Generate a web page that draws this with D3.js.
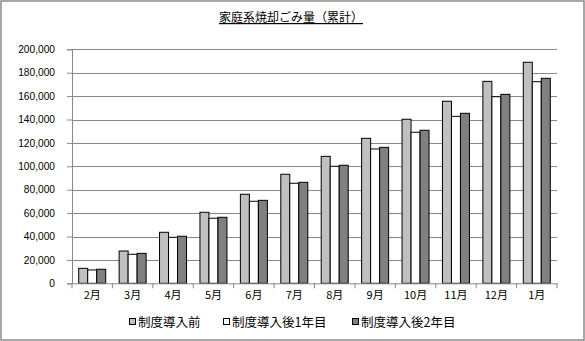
<!DOCTYPE html>
<html><head><meta charset="utf-8">
<script src="https://cdn.jsdelivr.net/npm/d3@7"></script>
<style>body{margin:0;background:#fff;}svg{display:block;}</style>
</head><body>
<svg id="c" width="585" height="341"></svg>
<script>
const title = "家庭系焼却ごみ量（累計）";
const categories = ["2月","3月","4月","5月","6月","7月","8月","9月","10月","11月","12月","1月"];
const seriesNames = ["制度導入前","制度導入後1年目","制度導入後2年目"];
const before = [12800,27600,43600,60700,76100,93200,108500,123900,140200,155600,172600,188900];
const year1 = [11400,24800,39300,55600,70100,85500,100000,114800,129100,142700,159500,172300];
const year2 = [12000,25600,40200,56400,70900,86300,100900,116200,130800,145300,161500,175200];
const yTicks = [0,20000,40000,60000,80000,100000,120000,140000,160000,180000,200000];
const colors = ["#c0c0c0","#ffffff","#808080"];

const series = [before, year1, year2];
const svg = d3.select("#c");
const jp = "'Noto Sans CJK JP', sans-serif";
const L = 72, R = 557, T = 49.3, B = 283.3;

svg.append("rect").attr("x",1).attr("y",1).attr("width",583).attr("height",339)
  .attr("fill","#fff").attr("stroke","#8a8a8a").attr("stroke-width",1.5);

const x = d3.scaleBand().domain(categories).range([L,R]).paddingInner(0).paddingOuter(0);
const y = d3.scaleLinear().domain([0,200000]).range([B,T]);
const xs = d3.scaleBand().domain([0,1,2]).range([0,27]);
const barOff = (x.bandwidth()-27)/2;

// grid
svg.append("g").selectAll("line").data(yTicks.slice(1)).join("line")
  .attr("x1",L).attr("x2",R).attr("y1",d=>Math.round(y(d))+0.5).attr("y2",d=>Math.round(y(d))+0.5)
  .attr("stroke","#888").attr("stroke-width",1);

// bars
const g = svg.append("g");
series.forEach((s,i)=>{
  g.selectAll(null).data(s).join("rect")
    .attr("x",(d,j)=>x(categories[j])+barOff+xs(i))
    .attr("y",d=>y(d))
    .attr("width",xs.bandwidth())
    .attr("height",d=>B-y(d))
    .attr("fill",colors[i]).attr("stroke","#000").attr("stroke-width",1);
});

// y axis
const ya = svg.append("g").attr("transform",`translate(${L},0)`)
  .call(d3.axisLeft(y).tickValues(yTicks).tickSize(5).tickPadding(12).tickFormat(d3.format(",")));
ya.select(".domain").attr("stroke","#888");
ya.selectAll(".tick line").attr("stroke","#888");
ya.selectAll("text").attr("font-family","'Liberation Sans', Arial, sans-serif").attr("font-size",10.2).attr("fill","#000");

// x axis
const xa = svg.append("g").attr("transform",`translate(0,${B})`)
  .call(d3.axisBottom(x).tickSize(0).tickPadding(8));
xa.select(".domain").attr("stroke","#888");
xa.selectAll("text").attr("font-family",jp).attr("font-size",11).attr("fill","#000");
svg.append("g").selectAll("line").data(d3.range(categories.length+1)).join("line")
  .attr("x1",d=>L+d*x.bandwidth()).attr("x2",d=>L+d*x.bandwidth())
  .attr("y1",B).attr("y2",B+5).attr("stroke","#888");

// title
const t = svg.append("text").attr("x",291).attr("y",22).attr("text-anchor","middle")
  .attr("font-family",jp).attr("font-size",12).attr("fill","#000")
  .attr("text-decoration","underline").text(title);

// legend
const legX = [129, 223, 352];
const lg = svg.append("g");
seriesNames.forEach((n,i)=>{
  lg.append("rect").attr("x",legX[i]+0.5).attr("y",318.5).attr("width",6).attr("height",6)
    .attr("fill",colors[i]).attr("stroke","#000").attr("stroke-width",1);
  lg.append("text").attr("x",legX[i]+9).attr("y",326.5)
    .attr("font-family",jp).attr("font-size",12.5).attr("fill","#000").text(n);
});
</script>
</body></html>
